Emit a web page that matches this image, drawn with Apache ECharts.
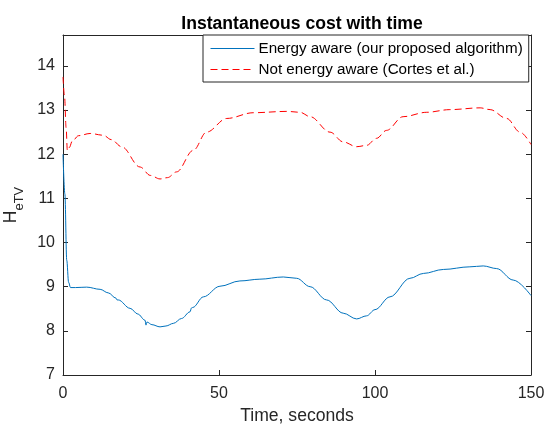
<!DOCTYPE html>
<html>
<head>
<meta charset="utf-8">
<script src="https://cdn.jsdelivr.net/npm/echarts@6/dist/echarts.min.js"></script>
<style>html,body{margin:0;padding:0;background:#fff;}#c{width:545px;height:426px;}</style>
</head>
<body>
<div id="c"></div>
<script>
var blueTime = [0, 0.6, 1.2, 1.8, 2.4, 4, 7.6, 11.9, 14.5, 17.0, 17.3, 17.7, 21.5, 24, 26.3, 26.6, 26.9, 28.5, 31.1, 33, 35.4, 38, 40.7, 41.2, 41.6, 45, 50.3, 56.7, 63.1, 70.6, 74.9, 79.2, 84.5, 89.8, 94.1, 97.3, 100, 104.8, 111.2, 115.5, 121.9, 130.4, 134.7, 139, 144.3, 150];
var blueCost = [12.0, 11.1, 9.6, 9.1, 8.98, 8.98, 8.99, 8.94, 8.86, 8.74, 8.70, 8.70, 8.51, 8.38, 8.24, 8.13, 8.20, 8.14, 8.09, 8.11, 8.17, 8.28, 8.43, 8.52, 8.53, 8.77, 9.01, 9.13, 9.17, 9.22, 9.19, 9.0, 8.7, 8.4, 8.27, 8.34, 8.48, 8.77, 9.19, 9.3, 9.39, 9.45, 9.47, 9.41, 9.15, 8.8];
var redTime = [0, 0.5, 1.0, 1.4, 2.0, 3, 5, 8.7, 12.9, 15.5, 18.8, 24.7, 28, 31.1, 33.5, 36.4, 41.8, 46, 52.5, 61, 71.7, 76, 79.2, 85.6, 89.8, 94.1, 97.3, 100.5, 103.7, 109, 116.6, 124, 133.7, 136.9, 142.2, 146.5, 150];
var redCost = [13.75, 13.3, 12.6, 12.08, 12.15, 12.3, 12.42, 12.47, 12.43, 12.33, 12.17, 11.71, 11.52, 11.44, 11.47, 11.6, 12.09, 12.5, 12.81, 12.94, 12.97, 12.95, 12.85, 12.5, 12.28, 12.17, 12.2, 12.36, 12.54, 12.85, 12.95, 13.01, 13.05, 13.01, 12.81, 12.5, 12.22];
var xTicks = [0, 50, 100, 150];
var yTicks = [7, 8, 9, 10, 11, 12, 13, 14];
var seriesNames = ['Energy aware (our proposed algorithm)', 'Not energy aware (Cortes et al.)'];
var titleText = 'Instantaneous cost with time';
var xName = 'Time, seconds';

function pairs(t, v) { return t.map(function (x, i) { return [x, v[i]]; }); }

var font = "'Liberation Sans', Arial, Helvetica, sans-serif";
var axCol = '#262626';
var chart = echarts.init(document.getElementById('c'), null, { renderer: 'canvas' });
var baseAxis = {
  axisLine: { show: true, onZero: false, lineStyle: { color: axCol, width: 1 } },
  splitLine: { show: false }
};
chart.setOption({
  animation: false,
  backgroundColor: '#fff',
  title: {
    text: titleText, left: 297, top: 10, textAlign: 'center',
    textStyle: { fontFamily: font, fontSize: 17.6, fontWeight: 'bold', color: '#000' }
  },
  grid: { left: 63, right: 14, top: 35, bottom: 51, containLabel: false, outerBoundsMode: 'none' },
  legend: {
    orient: 'vertical', left: 203, top: 35,
    padding: [6, 6, 5, 7], itemGap: 6, itemWidth: 44, itemHeight: 14,
    borderColor: '#262626', borderWidth: 1, backgroundColor: '#fff',
    itemStyle: { opacity: 0 },
    lineStyle: { width: 1 },
    textStyle: { fontFamily: font, fontSize: 15.2, color: '#000', padding: [0, 0, 0, -1] },
    data: seriesNames
  },
  xAxis: [
    Object.assign({}, baseAxis, {
      type: 'value', min: 0, max: 150, interval: 50, position: 'bottom',
      name: xName, nameLocation: 'middle', nameGap: 30,
      nameTextStyle: { fontFamily: font, fontSize: 17.6, color: axCol },
      axisTick: { inside: true, length: 5, lineStyle: { color: axCol }, customValues: xTicks },
      axisLabel: { fontFamily: font, fontSize: 16, color: axCol, margin: 11, customValues: xTicks }
    }),
    Object.assign({}, baseAxis, {
      type: 'value', min: 0, max: 150, interval: 50, position: 'top',
      axisTick: { inside: true, length: 5, lineStyle: { color: axCol }, customValues: xTicks },
      axisLabel: { show: false }
    })
  ],
  yAxis: [
    Object.assign({}, baseAxis, {
      type: 'value', min: 7, max: 14.7, interval: 1, position: 'left',
      name: '{h|H}{s|eTV}', nameLocation: 'middle', nameGap: 30, nameRotate: 90,
      nameTextStyle: {
        fontFamily: font, color: axCol, padding: [7, 0, 0, 0],
        rich: {
          h: { fontFamily: font, fontSize: 17.6, color: axCol, lineHeight: 24, verticalAlign: 'top' },
          s: { fontFamily: font, fontSize: 13, color: axCol, lineHeight: 24, verticalAlign: 'bottom' }
        }
      },
      axisTick: { inside: true, length: 5, lineStyle: { color: axCol }, customValues: yTicks },
      axisLabel: { fontFamily: font, fontSize: 16, color: axCol, margin: 8, customValues: yTicks }
    }),
    Object.assign({}, baseAxis, {
      type: 'value', min: 7, max: 14.7, interval: 1, position: 'right',
      axisTick: { inside: true, length: 5, lineStyle: { color: axCol }, customValues: yTicks },
      axisLabel: { show: false }
    })
  ],
  series: [
    {
      name: seriesNames[0], type: 'line', data: pairs(blueTime, blueCost),
      xAxisIndex: 0, yAxisIndex: 0, symbol: 'none', smooth: 0.35, smoothMonotone: 'x',
      lineStyle: { color: '#0072BD', width: 1 }, itemStyle: { color: '#0072BD' }
    },
    {
      name: seriesNames[1], type: 'line', data: pairs(redTime, redCost),
      xAxisIndex: 0, yAxisIndex: 0, symbol: 'none', smooth: 0.35, smoothMonotone: 'x',
      lineStyle: { color: '#FF0000', width: 1, type: [7, 4] }, itemStyle: { color: '#FF0000' }
    }
  ]
});
</script>
</body>
</html>
